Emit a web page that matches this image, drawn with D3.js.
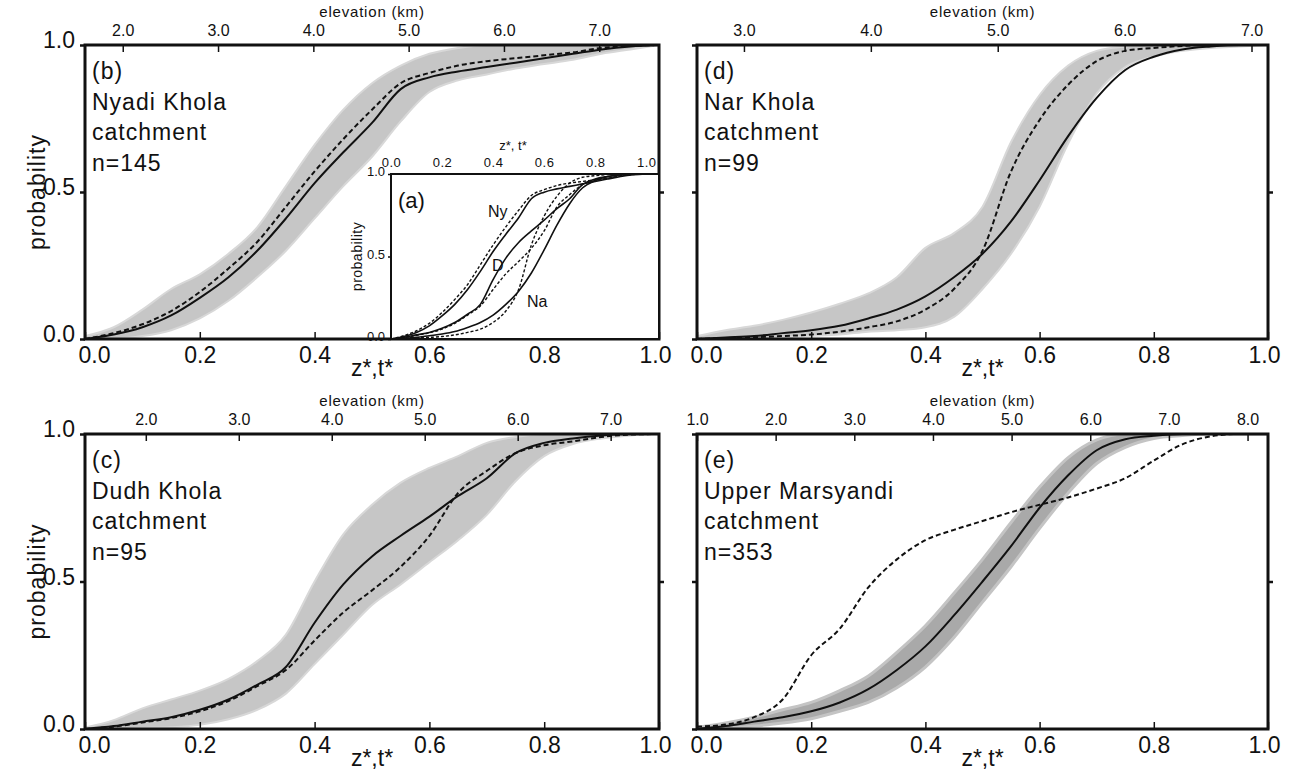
<!DOCTYPE html>
<html>

<head>
    <meta charset="utf-8">
    <title>Hypsometry vs. detrital age distributions</title>
    <script type="text/javascript" src="https://d3js.org/d3.v7.min.js"></script>
    <style>
        body { margin: 0; background: #fff; }
        text { font-family: "Liberation Sans", Arial, sans-serif; fill: #111; }
    </style>
</head>

<body>
    <script type="text/javascript">
        //Normalised elevation / age (z*, t*) grid shared by every curve
        var zGrid = [0, 0.05, 0.1, 0.15, 0.2, 0.25, 0.3, 0.35, 0.4, 0.45, 0.5,
            0.55, 0.6, 0.65, 0.7, 0.75, 0.8, 0.85, 0.9, 0.95, 1.0];

        //(b) Nyadi Khola
        var nyadiSolid = [0, 0.015, 0.04, 0.08, 0.14, 0.21, 0.30, 0.41, 0.53, 0.635, 0.735,
            0.85, 0.89, 0.91, 0.925, 0.94, 0.955, 0.97, 0.985, 0.995, 1.0];
        var nyadiDashed = [0, 0.02, 0.05, 0.095, 0.16, 0.24, 0.33, 0.45, 0.57, 0.68, 0.78,
            0.87, 0.905, 0.93, 0.945, 0.955, 0.965, 0.975, 0.99, 0.997, 1.0];
        var nyadiLow = [0, 0, 0.01, 0.03, 0.07, 0.13, 0.21, 0.30, 0.41, 0.52, 0.62,
            0.74, 0.84, 0.88, 0.90, 0.92, 0.935, 0.95, 0.97, 0.985, 1.0];
        var nyadiHigh = [0.01, 0.04, 0.10, 0.17, 0.22, 0.29, 0.38, 0.52, 0.66, 0.78, 0.87,
            0.93, 0.97, 0.99, 1.0, 1.0, 1.0, 1.0, 1.0, 1.0, 1.0];

        //(d) Nar Khola
        var narSolid = [0, 0.005, 0.01, 0.02, 0.03, 0.045, 0.07, 0.10, 0.145, 0.21, 0.29,
            0.40, 0.54, 0.69, 0.82, 0.915, 0.96, 0.985, 0.995, 1.0, 1.0];
        var narDashed = [0, 0.003, 0.006, 0.01, 0.015, 0.025, 0.04, 0.06, 0.10, 0.17, 0.30,
            0.57, 0.745, 0.865, 0.945, 0.98, 0.99, 0.997, 1.0, 1.0, 1.0];
        var narLow = [0, 0, 0, 0.005, 0.01, 0.015, 0.025, 0.03, 0.04, 0.075, 0.17,
            0.29, 0.45, 0.665, 0.835, 0.925, 0.96, 0.98, 0.99, 0.995, 1.0];
        var narHigh = [0.01, 0.03, 0.045, 0.065, 0.09, 0.12, 0.155, 0.21, 0.31, 0.36, 0.45,
            0.67, 0.83, 0.93, 0.98, 0.995, 1.0, 1.0, 1.0, 1.0, 1.0];

        //(c) Dudh Khola
        var dudhSolid = [0, 0.01, 0.025, 0.04, 0.065, 0.10, 0.15, 0.21, 0.36, 0.49, 0.585,
            0.655, 0.72, 0.79, 0.85, 0.935, 0.97, 0.985, 0.995, 1.0, 1.0];
        var dudhDashed = [0, 0.008, 0.022, 0.037, 0.06, 0.095, 0.145, 0.20, 0.30, 0.395, 0.47,
            0.55, 0.655, 0.80, 0.875, 0.935, 0.962, 0.975, 0.99, 0.998, 1.0];
        var dudhLow = [0, 0, 0.003, 0.006, 0.014, 0.033, 0.065, 0.12, 0.22, 0.32, 0.42,
            0.49, 0.565, 0.64, 0.726, 0.84, 0.925, 0.966, 0.985, 0.995, 1.0];
        var dudhHigh = [0.005, 0.03, 0.07, 0.10, 0.13, 0.17, 0.23, 0.32, 0.50, 0.66, 0.76,
            0.835, 0.885, 0.925, 0.97, 0.99, 1.0, 1.0, 1.0, 1.0, 1.0];

        //(e) Upper Marsyandi
        var marsSolid = [0, 0.01, 0.025, 0.04, 0.06, 0.09, 0.135, 0.20, 0.28, 0.385, 0.50,
            0.62, 0.75, 0.86, 0.945, 0.982, 0.994, 1.0, 1.0, 1.0, 1.0];
        var marsDashed = [0.008, 0.015, 0.04, 0.10, 0.25, 0.34, 0.48, 0.575, 0.64, 0.675, 0.705,
            0.735, 0.76, 0.785, 0.815, 0.85, 0.91, 0.965, 0.992, 1.0, 1.0];
        var marsLow = [0, 0.003, 0.01, 0.02, 0.035, 0.06, 0.09, 0.14, 0.21, 0.31, 0.43,
            0.55, 0.68, 0.80, 0.90, 0.955, 0.985, 0.995, 1.0, 1.0, 1.0];
        var marsHigh = [0.005, 0.02, 0.04, 0.065, 0.09, 0.13, 0.18, 0.26, 0.35, 0.46, 0.575,
            0.70, 0.82, 0.92, 0.98, 1.0, 1.0, 1.0, 1.0, 1.0, 1.0];

        //Tick values
        var zTicks = [0, 0.2, 0.4, 0.6, 0.8, 1.0];
        var probTicks = [0, 0.5, 1.0];
        var elevTicksB = [2, 3, 4, 5, 6, 7];
        var elevTicksD = [3, 4, 5, 6, 7];
        var elevTicksC = [2, 3, 4, 5, 6, 7];
        var elevTicksE = [1, 2, 3, 4, 5, 6, 7, 8];
        var insetTicks = [0, 0.2, 0.4, 0.6, 0.8, 1.0];

        //Width and height
        var w = 1295;
        var h = 773;
        var fmt = d3.format(".1f");

        var svg = d3.select("body")
            .append("svg")
            .attr("width", w)
            .attr("height", h);

        var panels = [
            { id: "b", x0: 85, x1: 659, y0: 45, y1: 339, elev: [1.604, 7.627], elevTicks: elevTicksB,
              solid: nyadiSolid, dashed: nyadiDashed, low: nyadiLow, high: nyadiHigh,
              text: ["(b)", "Nyadi Khola", "catchment", "n=145"], left: true, dark: false },
            { id: "d", x0: 697, x1: 1268, y0: 45, y1: 339, elev: [2.63, 7.13], elevTicks: elevTicksD,
              solid: narSolid, dashed: narDashed, low: narLow, high: narHigh,
              text: ["(d)", "Nar Khola", "catchment", "n=99"], left: false, dark: false },
            { id: "c", x0: 85, x1: 659, y0: 434, y1: 729, elev: [1.346, 7.52], elevTicks: elevTicksC,
              solid: dudhSolid, dashed: dudhDashed, low: dudhLow, high: dudhHigh,
              text: ["(c)", "Dudh Khola", "catchment", "n=95"], left: true, dark: false },
            { id: "e", x0: 697, x1: 1268, y0: 434, y1: 729, elev: [1.0, 8.26], elevTicks: elevTicksE,
              solid: marsSolid, dashed: marsDashed, low: marsLow, high: marsHigh,
              text: ["(e)", "Upper Marsyandi", "catchment", "n=353"], left: false, dark: true }
        ];

        panels.forEach(drawPanel);
        drawInset();

        function drawPanel(p) {
            var x = d3.scaleLinear().domain([0, 1]).range([p.x0, p.x1]);
            var y = d3.scaleLinear().domain([0, 1]).range([p.y1, p.y0]);
            var xe = d3.scaleLinear().domain(p.elev).range([p.x0, p.x1]);

            var clipId = "clip-" + p.id;
            svg.append("clipPath").attr("id", clipId)
                .append("rect")
                .attr("x", p.x0).attr("y", p.y0)
                .attr("width", p.x1 - p.x0).attr("height", p.y1 - p.y0);

            var g = svg.append("g").attr("clip-path", "url(#" + clipId + ")");

            //Envelope of the individual gray curves
            var band = d3.area()
                .x(function(d, i) { return x(zGrid[i]); })
                .y0(function(d, i) { return y(p.low[i]); })
                .y1(function(d, i) { return y(p.high[i]); })
                .curve(d3.curveMonotoneX);

            g.append("path")
                .datum(zGrid)
                .attr("d", band)
                .attr("fill", p.dark ? "#a9a9a9" : "#c6c6c6")
                .attr("stroke", p.dark ? "#c4c4c4" : "#d8d8d8")
                .attr("stroke-width", p.dark ? 3 : 2);

            var line = function(vals) {
                return d3.line()
                    .x(function(d, i) { return x(zGrid[i]); })
                    .y(function(d, i) { return y(vals[i]); })
                    .curve(d3.curveMonotoneX)(zGrid);
            };

            g.append("path")
                .attr("d", line(p.solid))
                .attr("fill", "none")
                .attr("stroke", "#111")
                .attr("stroke-width", 2);

            g.append("path")
                .attr("d", line(p.dashed))
                .attr("fill", "none")
                .attr("stroke", "#111")
                .attr("stroke-width", 2)
                .attr("stroke-dasharray", "5,3");

            //Bottom z*,t* axis
            var bottom = svg.append("g")
                .attr("transform", "translate(0," + p.y1 + ")")
                .call(d3.axisBottom(x).tickValues(zTicks).tickFormat(fmt)
                    .tickSizeInner(-7).tickSizeOuter(0).tickPadding(8));
            bottom.select(".domain").remove();
            bottom.selectAll("line").attr("stroke", "#111").attr("stroke-width", 1.5);
            bottom.selectAll("text")
                .style("font-size", "23px")
                .attr("dx", function(d) { return d === 0 ? 9 : (d === 1 ? -4 : 0); });

            svg.append("text")
                .attr("x", (p.x0 + p.x1) / 2)
                .attr("y", p.y1 + 37)
                .attr("text-anchor", "middle")
                .style("font-size", "23px")
                .text("z*,t*");

            //Top elevation axis
            var top = svg.append("g")
                .attr("transform", "translate(0," + p.y0 + ")")
                .call(d3.axisTop(xe).tickValues(p.elevTicks).tickFormat(fmt)
                    .tickSizeInner(-7).tickSizeOuter(0).tickPadding(9));
            top.select(".domain").remove();
            top.selectAll("line").attr("stroke", "#111").attr("stroke-width", 1.5);
            top.selectAll("text").style("font-size", "16px");

            svg.append("text")
                .attr("x", (p.x0 + p.x1) / 2)
                .attr("y", p.y0 - 28)
                .attr("text-anchor", "middle")
                .style("font-size", "15px")
                .style("letter-spacing", "0.8px")
                .text("elevation (km)");

            //Probability axes (ticks on both sides)
            var leftAxis = svg.append("g")
                .attr("transform", "translate(" + p.x0 + ",0)")
                .call(d3.axisLeft(y).tickValues(probTicks).tickFormat(fmt)
                    .tickSizeInner(5).tickSizeOuter(0).tickPadding(5));
            leftAxis.select(".domain").remove();
            leftAxis.selectAll("line").attr("stroke", "#111").attr("stroke-width", 2.5);
            if (p.left) {
                leftAxis.selectAll("text").style("font-size", "23px").attr("dy", "0.12em");
            } else {
                leftAxis.selectAll("text").remove();
            }

            var rightAxis = svg.append("g")
                .attr("transform", "translate(" + p.x1 + ",0)")
                .call(d3.axisRight(y).tickValues([0.5]).tickSizeInner(5).tickSizeOuter(0));
            rightAxis.select(".domain").remove();
            rightAxis.selectAll("text").remove();
            rightAxis.selectAll("line").attr("stroke", "#111").attr("stroke-width", 2.5);

            if (p.left) {
                svg.append("text")
                    .attr("transform", "translate(45," + ((p.y0 + p.y1) / 2) + ") rotate(-90)")
                    .attr("text-anchor", "middle")
                    .style("font-size", "23px")
                    .style("letter-spacing", "1px")
                    .text("probability");
            }

            //Frame
            svg.append("rect")
                .attr("x", p.x0).attr("y", p.y0)
                .attr("width", p.x1 - p.x0).attr("height", p.y1 - p.y0)
                .attr("fill", "none")
                .attr("stroke", "#111")
                .attr("stroke-width", 3);

            //Panel annotation
            svg.append("text")
                .attr("x", p.x0 + 7)
                .attr("y", p.y0 + 34)
                .style("font-size", "23px")
                .style("letter-spacing", "1px")
                .selectAll("tspan")
                .data(p.text)
                .enter()
                .append("tspan")
                .attr("x", p.x0 + 7)
                .attr("dy", function(d, i) { return i === 0 ? 0 : 30.5; })
                .text(function(d) { return d; });
        }

        function drawInset() {
            var ix0 = 391, ix1 = 659, iy0 = 174, iy1 = 339;
            var x = d3.scaleLinear().domain([0, 1.05]).range([ix0, ix1]);
            var y = d3.scaleLinear().domain([0, 1]).range([iy1, iy0]);

            svg.append("rect")
                .attr("x", ix0).attr("y", iy0)
                .attr("width", ix1 - ix0).attr("height", iy1 - iy0)
                .attr("fill", "#fff");

            var line = function(vals) {
                return d3.line()
                    .x(function(d, i) { return x(zGrid[i]); })
                    .y(function(d, i) { return y(vals[i]); })
                    .curve(d3.curveMonotoneX)(zGrid);
            };

            [nyadiSolid, dudhSolid, narSolid].forEach(function(vals) {
                svg.append("path")
                    .attr("d", line(vals))
                    .attr("fill", "none")
                    .attr("stroke", "#111")
                    .attr("stroke-width", 1.6);
            });
            [nyadiDashed, dudhDashed, narDashed].forEach(function(vals) {
                svg.append("path")
                    .attr("d", line(vals))
                    .attr("fill", "none")
                    .attr("stroke", "#111")
                    .attr("stroke-width", 1.4)
                    .attr("stroke-dasharray", "3,2");
            });

            //flat tail to the right edge of the inset
            svg.append("line")
                .attr("x1", x(1)).attr("x2", ix1)
                .attr("y1", y(1)).attr("y2", y(1))
                .attr("stroke", "#111").attr("stroke-width", 1.6);

            var top = svg.append("g")
                .attr("transform", "translate(0," + iy0 + ")")
                .call(d3.axisTop(x).tickValues(insetTicks).tickFormat(fmt)
                    .tickSizeInner(0).tickSizeOuter(0).tickPadding(7));
            top.select(".domain").remove();
            top.selectAll("text").style("font-size", "13px").style("letter-spacing", "0.5px");

            svg.append("text")
                .attr("x", 513).attr("y", 150)
                .attr("text-anchor", "middle")
                .style("font-size", "13px")
                .text("z*, t*");

            var left = svg.append("g")
                .attr("transform", "translate(" + ix0 + ",0)")
                .call(d3.axisLeft(y).tickValues(probTicks).tickFormat(fmt)
                    .tickSizeInner(3).tickSizeOuter(0).tickPadding(3));
            left.select(".domain").remove();
            left.selectAll("line").attr("stroke", "#111").attr("stroke-width", 1.5);
            left.selectAll("text").style("font-size", "13px").attr("dy", "0.12em");

            svg.append("text")
                .attr("transform", "translate(362," + ((iy0 + iy1) / 2) + ") rotate(-90)")
                .attr("text-anchor", "middle")
                .style("font-size", "14px")
                .style("letter-spacing", "0.5px")
                .text("probability");

            svg.append("rect")
                .attr("x", ix0).attr("y", iy0)
                .attr("width", ix1 - ix0).attr("height", iy1 - iy0)
                .attr("fill", "none")
                .attr("stroke", "#111")
                .attr("stroke-width", 2);

            svg.append("text").attr("x", 398).attr("y", 208)
                .style("font-size", "22px").text("(a)");
            svg.append("text").attr("x", 488).attr("y", 217)
                .style("font-size", "16px").text("Ny");
            svg.append("text").attr("x", 492).attr("y", 271)
                .style("font-size", "16px").text("D");
            svg.append("text").attr("x", 527).attr("y", 307)
                .style("font-size", "16px").text("Na");
        }
    </script>
</body>

</html>
